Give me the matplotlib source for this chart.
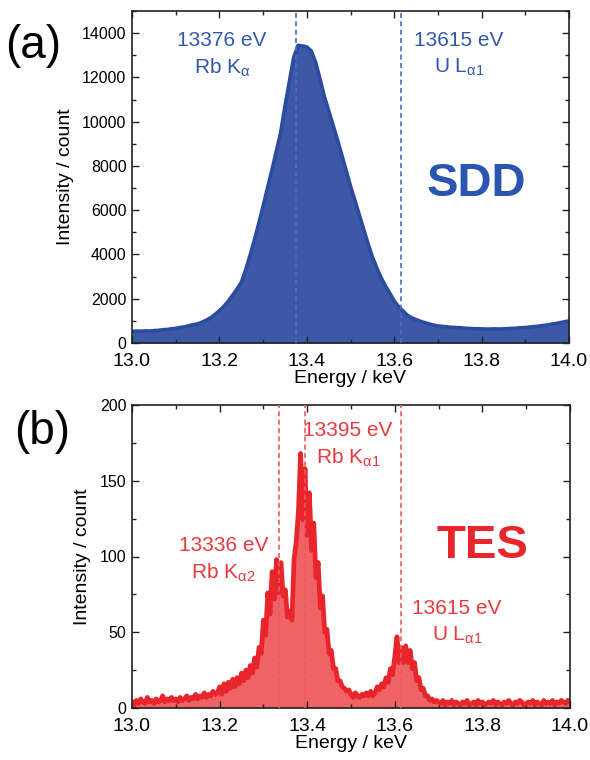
import numpy as np
import matplotlib
matplotlib.use("Agg")
from matplotlib import pyplot as plt
from matplotlib.ticker import MultipleLocator

plt.rcParams['font.family'] = ['Liberation Sans', 'DejaVu Sans']
plt.rcParams['mathtext.fontset'] = 'custom'
plt.rcParams['mathtext.rm'] = 'Liberation Sans'
plt.rcParams['mathtext.it'] = 'Liberation Sans:italic'

# ---- SDD spectrum (keV, counts) ----
sdd_start, sdd_step = 13.00, 0.01
sdd_counts = [
    520, 540, 530, 550, 540, 560, 570, 600, 610, 640,
    660, 700, 730, 780, 830, 860, 940, 1030, 1140, 1290,
    1460, 1650, 1880, 2150, 2430, 2730, 3300, 3950, 4650, 5400,
    6190, 7000, 7800, 8650, 9490, 10700, 11800, 12900, 13450, 13420,
    13380, 13200, 12700, 11950, 11150, 10500, 9850, 9200, 8500, 7800,
    7090, 6450, 5800, 5150, 4500, 3900, 3400, 2950, 2580, 2250,
    1900, 1650, 1450, 1260, 1140, 1060, 980, 920, 860, 810,
    770, 750, 730, 710, 700, 690, 670, 660, 650, 640,
    640, 630, 630, 640, 630, 640, 650, 660, 670, 690,
    700, 720, 740, 760, 790, 810, 850, 880, 920, 960,
    1000,
]

# ---- TES spectrum (keV, counts), 5 eV bins ----
tes_start, tes_step = 13.000, 0.005
tes_counts = [
    # 13.000 - 13.195
    4, 2, 5, 3, 6, 4, 3, 7, 4, 5, 3, 6, 4, 5, 8, 4, 6, 5, 7, 5,
    6, 4, 7, 5, 6, 8, 5, 7, 6, 9, 6, 8, 7, 10, 7, 9, 8, 11, 9, 10,
    # 13.200 - 13.295
    14, 9, 16, 11, 17, 13, 19, 14, 20, 16, 23, 18, 25, 20, 28, 23, 33, 27, 40, 36,
    # 13.300 - 13.395
    58, 48, 76, 62, 90, 72, 98, 76, 96, 74, 78, 60, 64, 58, 98, 110, 130, 168, 124, 158,
    # 13.400 - 13.495
    114, 142, 104, 122, 86, 96, 66, 74, 50, 52, 36, 38, 26, 26, 18, 18, 14, 13, 11, 12,
    # 13.500 - 13.595
    9, 7, 10, 8, 7, 9, 8, 10, 8, 11, 8, 10, 14, 12, 16, 14, 20, 17, 26, 22,
    # 13.600 - 13.695
    34, 47, 30, 40, 30, 41, 30, 38, 26, 30, 18, 20, 12, 13, 8, 8, 5, 6, 4, 5,
    # 13.700 - 14.000
    4, 3, 5, 2, 4, 3, 5, 2, 4, 3, 2, 4, 3, 5, 2, 3, 4, 2, 5, 3, 4,
    2, 3, 4, 3, 5, 2, 4, 3, 2, 4, 3, 5, 3, 2, 4, 3, 5, 4, 2, 3,
    4, 3, 5, 2, 4, 3, 2, 5, 3, 4, 3, 5, 2, 4, 3, 5, 4, 3, 5, 4,
]

sdd_lines = [13.376, 13.615]
tes_lines = [13.336, 13.395, 13.615]

sdd_energy = sdd_start + sdd_step * np.arange(len(sdd_counts))
tes_energy = tes_start + tes_step * np.arange(len(tes_counts))

blue_line = '#2b4c9f'
blue_fill = '#3e58a8'
blue_text = '#3358ab'
red_line = '#e8252b'
red_fill = '#ef6266'
red_text = '#e83a3f'

fig = plt.figure(figsize=(5.9, 7.6), dpi=100)
ax1 = fig.add_axes([132 / 590, 1 - 343 / 760, 437 / 590, 332 / 760])
ax2 = fig.add_axes([132 / 590, 1 - 708 / 760, 438 / 590, 303 / 760])

# panel (a)
ax1.fill_between(sdd_energy, 0, sdd_counts, color=blue_fill, lw=0, zorder=1)
ax1.plot(sdd_energy, sdd_counts, color=blue_line, lw=2.6, zorder=2)
for e in sdd_lines:
    ax1.axvline(e, color='#4a6cc0', lw=1.2, ls=(0, (3, 2)), zorder=3)
ax1.set_ylim(0, 15000)
ax1.yaxis.set_major_locator(MultipleLocator(2000))
ax1.yaxis.set_minor_locator(MultipleLocator(1000))

sub = dict(ha='center', va='center', fontsize=15, color=blue_text)
ax1.text(13.206, 13650, '13376 eV', **sub)
ax1.text(13.206, 12450, r'Rb K$_{\mathregular{α}}$', **sub)
ax1.text(13.748, 13650, '13615 eV', **sub)
ax1.text(13.748, 12450, r'U L$_{\mathregular{α1}}$', **sub)
ax1.text(13.787, 7200, 'SDD', ha='center', va='center', fontsize=34,
         fontweight='bold', color='#2a55b0')

# panel (b)
ax2.fill_between(tes_energy, 0, tes_counts, color=red_fill, lw=0, zorder=1)
ax2.plot(tes_energy, tes_counts, color=red_line, lw=3.4, zorder=2)
for e in tes_lines:
    ax2.axvline(e, color='#ee5a5f', lw=1.2, ls=(0, (3, 2)), zorder=3)
ax2.set_ylim(0, 200)
ax2.yaxis.set_major_locator(MultipleLocator(50))
ax2.yaxis.set_minor_locator(MultipleLocator(25))

sub = dict(ha='center', va='center', fontsize=15, color=red_text)
ax2.text(13.493, 183, '13395 eV', **sub)
ax2.text(13.493, 165, r'Rb K$_{\mathregular{α1}}$', **sub)
ax2.text(13.209, 107, '13336 eV', **sub)
ax2.text(13.209, 89, r'Rb K$_{\mathregular{α2}}$', **sub)
ax2.text(13.742, 66, '13615 eV', **sub)
ax2.text(13.742, 48, r'U L$_{\mathregular{α1}}$', **sub)
ax2.text(13.80, 107, 'TES', ha='center', va='center', fontsize=34,
         fontweight='bold', color='#e8262c')

for ax in (ax1, ax2):
    ax.set_xlim(13.0, 14.0)
    ax.xaxis.set_major_locator(MultipleLocator(0.2))
    ax.xaxis.set_minor_locator(MultipleLocator(0.1))
    ax.xaxis.set_major_formatter(matplotlib.ticker.FormatStrFormatter('%.1f'))
    ax.tick_params(which='both', direction='in', top=True, right=True,
                   color='#222222', width=1.0)
    ax.tick_params(which='major', length=5)
    ax.tick_params(which='minor', length=3)
    ax.tick_params(axis='x', labelsize=14, pad=7)
    ax.tick_params(axis='y', labelsize=11.5, pad=4)
    for s in ax.spines.values():
        s.set_linewidth(1.2)
        s.set_color('#222222')
    ax.set_xlabel('Energy / keV', fontsize=14, labelpad=0)
    ax.set_ylabel('Intensity / count', fontsize=14, labelpad=6)

fig.text(33 / 590, 1 - 46 / 760, '(a)', ha='center', va='center', fontsize=33)
fig.text(42 / 590, 1 - 432 / 760, '(b)', ha='center', va='center', fontsize=33)

fig.savefig('out.png', dpi=100)
